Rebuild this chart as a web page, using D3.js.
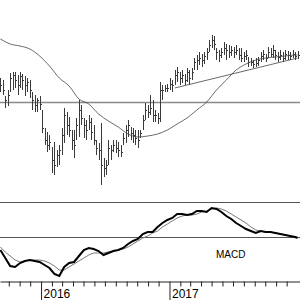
<!DOCTYPE html>
<html>
  <head>
    <meta charset="utf-8">
    <title>Weekly bars with MACD</title>
    <script src="https://d3js.org/d3.v7.min.js"></script>
    <style>
      body { margin: 0; background: #fff; }
      svg { display: block; font-family: 'Liberation Sans', Arial, Helvetica, sans-serif; }
    </style>
  </head>
  <body>
    <svg></svg>
    <script>

      var width = 300;
      var height = 300;

      // one bar per week, first one in the week of 7 Sep 2015
      var firstWeek = new Date(2015, 8, 7);

      var highs = [172,170,154,160,177,178,178,175,178,176,
                   174,172,170,158,155,152,154,140,122,118,
                   115,103,108,100,105,122,142,138,133,120,
                   120,132,150,145,132,130,135,132,125,110,
                   107,127,92,90,110,105,110,110,108,105,
                   117,125,130,123,122,120,120,120,135,147,
                   145,155,150,140,137,168,165,165,166,172,
                   170,180,183,178,180,176,182,180,182,192,
                   195,198,196,198,202,210,215,214,202,200,
                   202,208,206,205,204,203,205,202,202,198,
                   200,193,192,190,192,193,198,200,196,203,
                   202,205,200,198,200,198,200,199,198,200,
                   198,199];
      var lows = [158,155,142,144,158,160,162,155,162,160,
                  154,158,152,140,138,138,140,117,105,98,
                  100,77,75,83,85,95,107,115,113,100,
                  92,110,113,125,112,110,120,110,105,95,
                  90,65,73,75,85,90,98,97,93,93,
                  105,107,113,110,107,105,102,112,120,130,
                  132,135,128,128,126,128,150,158,158,160,
                  158,165,168,165,167,165,168,165,170,180,
                  180,185,183,186,190,198,202,200,190,188,
                  192,195,190,192,194,192,195,190,188,188,
                  190,183,184,182,183,184,188,190,188,192,
                  193,192,190,188,190,188,190,190,190,192,
                  190,191];
      var closes = [165,160,150,155,172,175,170,165,174,170,
                    165,168,160,150,145,150,146,122,110,105,
                    108,90,85,95,100,115,135,125,120,110,
                    105,125,140,132,125,120,128,118,110,102,
                    100,85,82,85,102,100,105,102,100,98,
                    112,120,125,117,115,112,110,117,130,140,
                    138,142,135,135,132,160,160,162,162,166,
                    165,175,178,172,175,170,178,172,178,188,
                    190,192,190,194,198,205,210,206,198,195,
                    198,202,200,198,200,198,200,195,192,194,
                    195,188,188,186,187,190,194,196,192,198,
                    196,200,195,193,195,192,196,195,194,196,
                    194,195];

      var maWeeks = d3.range(0, 121, 4).concat([121]);
      var maValues = [211,206,204,201,194,184,172,164,151,146,136,129,123,116,113,114,
                      116,120,126,132,140,148,160,170,180,186,190,192,193,194,195,195];

      // horizontal level and trend line
      var refLevel = 148;
      var trendWeeks = [71, 121];
      var trendValues = [162, 192];

      var macdWeeks = d3.range(0, 121, 2).concat([121]);
      var macdValues = [-1.3,-2.1,-2.9,-3.0,-2.6,-2.4,-2.3,-2.4,-2.5,-2.8,-3.1,-3.7,-3.9,-3.0,-2.6,-2.5,
                        -1.9,-1.3,-1.1,-1.2,-1.4,-1.8,-1.6,-1.4,-1.3,-1.1,-0.7,-0.4,-0.2,0.3,0.5,0.5,
                        1.0,1.4,1.7,1.9,2.3,2.3,2.2,2.3,2.6,2.6,2.5,2.9,2.8,2.5,2.1,1.8,
                        1.4,1.1,0.8,0.6,0.4,0.6,0.5,0.5,0.4,0.3,0.2,0.1,0.0,-0.1];
      var signalValues = [-1.0,-1.5,-1.9,-2.3,-2.5,-2.4,-2.3,-2.3,-2.3,-2.4,-2.6,-2.9,-3.3,-3.3,-3.0,-2.7,
                          -2.4,-2.1,-1.8,-1.6,-1.6,-1.6,-1.5,-1.4,-1.3,-1.2,-1.0,-0.7,-0.4,-0.1,0.1,0.4,
                          0.6,1.0,1.3,1.6,1.9,2.1,2.2,2.2,2.3,2.5,2.6,2.8,2.9,2.8,2.6,2.3,
                          2.0,1.7,1.4,1.0,0.7,0.6,0.5,0.5,0.4,0.3,0.2,0.1,0.0,0.0];

      function weekDate(i) { return d3.timeWeek.offset(firstWeek, i); }

      var x = d3.scaleTime()
        .domain([new Date(2015, 8, 6), new Date(2018, 0, 8)])
        .range([0, width]);

      var yPrice = d3.scaleLinear().domain([48, 250]).range([202, 0]);
      var yMacd = d3.scaleLinear().domain([-4.4, 3.5]).range([281, 202]);

      function px(v) { return Math.round(v) + 0.5; }

      var svg = d3.select('svg')
        .attr('width', width)
        .attr('height', height);

      // level line
      svg.append('line')
        .attr('x1', 0).attr('x2', width)
        .attr('y1', px(yPrice(refLevel))).attr('y2', px(yPrice(refLevel)))
        .style('stroke', '#8a8a8a')
        .style('stroke-width', 1.5);

      // weekly bars
      var bars = svg.append('g').selectAll('g')
        .data(highs)
        .enter().append('g');

      bars.append('line')
        .attr('x1', function (d, i) { return px(x(weekDate(i))); })
        .attr('x2', function (d, i) { return px(x(weekDate(i))); })
        .attr('y1', function (d) { return Math.round(yPrice(d)); })
        .attr('y2', function (d, i) { return Math.round(yPrice(lows[i])); })
        .style('stroke', '#3a3a3a');

      bars.append('line')
        .attr('x1', function (d, i) { return px(x(weekDate(i))); })
        .attr('x2', function (d, i) { return px(x(weekDate(i))) + 1.5; })
        .attr('y1', function (d, i) { return px(yPrice(closes[i])); })
        .attr('y2', function (d, i) { return px(yPrice(closes[i])); })
        .style('stroke', '#3a3a3a');

      // moving average
      var maLine = d3.line()
        .x(function (d, i) { return x(weekDate(maWeeks[i])); })
        .y(function (d) { return yPrice(d); })
        .curve(d3.curveMonotoneX);

      svg.append('path')
        .attr('d', maLine(maValues))
        .style('fill', 'none')
        .style('stroke', '#444')
        .style('stroke-width', 0.8);

      // trend line
      svg.append('line')
        .attr('x1', x(weekDate(trendWeeks[0]))).attr('y1', yPrice(trendValues[0]))
        .attr('x2', x(weekDate(trendWeeks[1]))).attr('y2', yPrice(trendValues[1]))
        .style('stroke', '#444')
        .style('stroke-width', 0.8);

      // MACD panel: top border and zero line
      svg.append('line')
        .attr('x1', 0).attr('x2', width)
        .attr('y1', px(yMacd.range()[1])).attr('y2', px(yMacd.range()[1]))
        .style('stroke', '#555');

      svg.append('line')
        .attr('x1', 0).attr('x2', width)
        .attr('y1', px(yMacd(0))).attr('y2', px(yMacd(0)))
        .style('stroke', '#555');

      var macdLine = d3.line()
        .x(function (d, i) { return x(weekDate(macdWeeks[i])); })
        .y(function (d) { return yMacd(d); });

      svg.append('path')
        .attr('d', macdLine(signalValues))
        .style('fill', 'none')
        .style('stroke', '#777')
        .style('stroke-width', 1);

      svg.append('path')
        .attr('d', macdLine(macdValues))
        .style('fill', 'none')
        .style('stroke', '#000')
        .style('stroke-width', 2);

      svg.append('text')
        .attr('x', 216)
        .attr('y', 258)
        .style('font-size', '10px')
        .style('fill', '#000')
        .text('MACD');

      // time axis: monthly ticks up to Dec 2017, long ticks with labels at each new year
      var monthTicks = d3.timeMonth.range(x.domain()[0], new Date(2017, 11, 31));

      var axis = svg.append('g')
        .attr('transform', 'translate(0,' + px(yMacd.range()[0]) + ')')
        .call(d3.axisBottom(x)
          .tickValues(monthTicks)
          .tickSize(5)
          .tickSizeOuter(0)
          .tickFormat(''));

      axis.select('.domain').style('stroke', '#222');
      axis.selectAll('.tick line').style('stroke', '#222');

      axis.selectAll('.tick')
        .filter(function (d) { return d.getMonth() === 0; })
        .each(function (d) {
          var t = d3.select(this);
          t.select('line').attr('y2', 20);
          t.select('text')
            .attr('x', 2)
            .attr('y', 8)
            .attr('text-anchor', 'start')
            .style('font-size', '12px')
            .style('fill', '#000')
            .text(d.getFullYear());
        });

    </script>
  </body>
</html>
